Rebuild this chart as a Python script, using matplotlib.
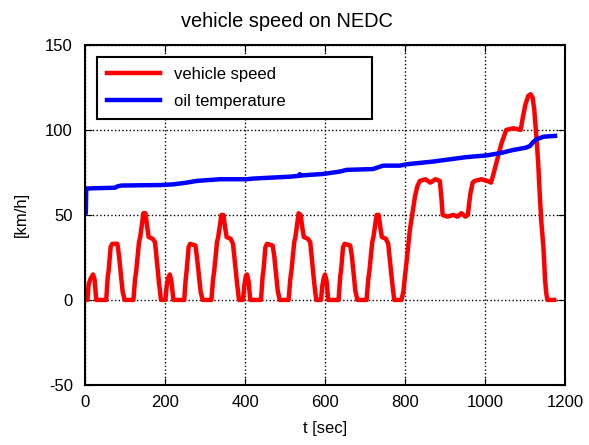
import matplotlib
matplotlib.use("Agg")
import matplotlib.pyplot as plt

# vehicle speed on NEDC (4 x ECE-15 + EUDC)
speed_t = [
    0, 5, 8, 12, 19, 23, 27, 52, 56, 58, 63, 67, 80, 84, 93, 98,
    120, 124, 127, 134, 137, 145, 150, 154, 158, 168, 174, 184, 189,
    195, 200, 203, 207, 211, 215, 220, 247, 251, 253, 258, 262, 275, 279, 288, 293,
    315, 319, 322, 329, 332, 340, 345, 349, 353, 363, 369, 379, 384,
    390, 394, 397, 401, 404, 408, 412, 439, 443, 445, 450, 454, 468, 472, 481, 486,
    508, 512, 515, 522, 525, 533, 538, 542, 546, 556, 562, 572, 577,
    585, 589, 592, 596, 599, 603, 607, 633, 637, 639, 644, 648, 662, 666, 675, 680,
    703, 707, 710, 717, 720, 728, 733, 737, 741, 751, 757, 767, 772,
    780, 790, 795, 798, 804, 811, 818, 824, 830, 836, 850, 862, 875, 886, 890, 893,
    905, 920, 930, 940, 950, 956, 962, 968, 973, 990, 1005, 1014, 1020, 1030, 1040,
    1052, 1070, 1088, 1094, 1100, 1107, 1113, 1118, 1122, 1128, 1132, 1136, 1140,
    1145, 1149, 1152, 1155, 1172,
]
speed_v = [
    0, 0, 9, 12, 15, 12, 0, 0, 14, 17, 31, 33, 33, 26, 5, 0,
    0, 12, 17, 34, 37, 51, 51, 44, 37, 36, 34, 10, 0,
    0, 0, 8, 13, 15, 11, 0, 0, 13, 17, 31, 33, 32, 25, 5, 0,
    0, 12, 17, 34, 37, 50, 50, 43, 37, 36, 33, 10, 0,
    0, 0, 8, 14, 15, 11, 0, 0, 14, 17, 31, 33, 32, 26, 5, 0,
    0, 12, 17, 34, 37, 51, 50, 43, 37, 36, 34, 10, 0,
    0, 0, 8, 13, 15, 11, 0, 0, 14, 17, 31, 33, 32, 26, 5, 0,
    0, 12, 17, 34, 37, 50, 50, 43, 37, 36, 33, 10, 0,
    0, 0, 5, 12, 25, 41, 52, 61, 67, 70, 71, 69, 71, 70, 60, 50,
    49, 50, 49, 51, 49, 50, 62, 69, 70, 71, 70, 69, 74, 83, 92,
    100, 101, 100, 108, 115, 120, 121, 119, 112, 94, 80, 61, 45,
    31, 12, 4, 0, 0,
]

# oil temperature
oil_t = [0, 1, 2, 20, 74, 80, 90, 190, 220, 253, 278, 336, 403, 420, 511, 534,
         536, 538, 594, 636, 653, 719, 744, 786, 803, 869, 952, 1002, 1036,
         1069, 1100, 1111, 1120, 1128, 1145, 1174]
oil_v = [51, 51, 65.5, 65.7, 66, 66.8, 67.3, 67.6, 68, 69, 70, 71, 71, 71.4, 72.5, 73,
         74, 73.2, 74.1, 75.5, 76.5, 77, 79, 79, 79.8, 81.4, 84, 85, 86.3,
         88.2, 89.5, 90.5, 93, 94.5, 96, 96.5]

plt.rcParams['font.family'] = ['Liberation Sans', 'DejaVu Sans']
plt.rcParams['font.size'] = 12
plt.rcParams['axes.unicode_minus'] = False

fig = plt.figure(figsize=(5.89, 4.45), dpi=100)
ax = fig.add_axes([0.145, 0.135, 0.815, 0.764])

ax.plot(speed_t, speed_v, color='red', lw=3.2, label='vehicle speed')
ax.plot(oil_t, oil_v, color='blue', lw=3.2, label='oil temperature')

ax.set_xlim(0, 1200)
ax.set_ylim(-50, 150)
ax.set_xticks(range(0, 1201, 200))
ax.set_yticks(range(-50, 151, 50))
ax.grid(True, color='black', linestyle=':', linewidth=1)
ax.tick_params(direction='in', top=True, right=True, length=5)
ax.tick_params(axis='y', pad=9)
ax.tick_params(axis='x', pad=7)
for s in ax.spines.values():
    s.set_linewidth(1.5)

ax.set_title('vehicle speed on NEDC', x=0.42, pad=13)
ax.set_xlabel('t [sec]', labelpad=8)
ax.set_ylabel('[km/h]', labelpad=12)

leg = ax.legend(loc='upper left', bbox_to_anchor=(0.024, 0.965, 0.573, 0.0),
                mode='expand', fancybox=False, edgecolor='black', framealpha=1,
                handlelength=3.2, handletextpad=0.8, borderpad=0.6,
                labelspacing=0.7, borderaxespad=0)
leg.get_frame().set_linewidth(1.5)

fig.savefig('out.png', dpi=100)
